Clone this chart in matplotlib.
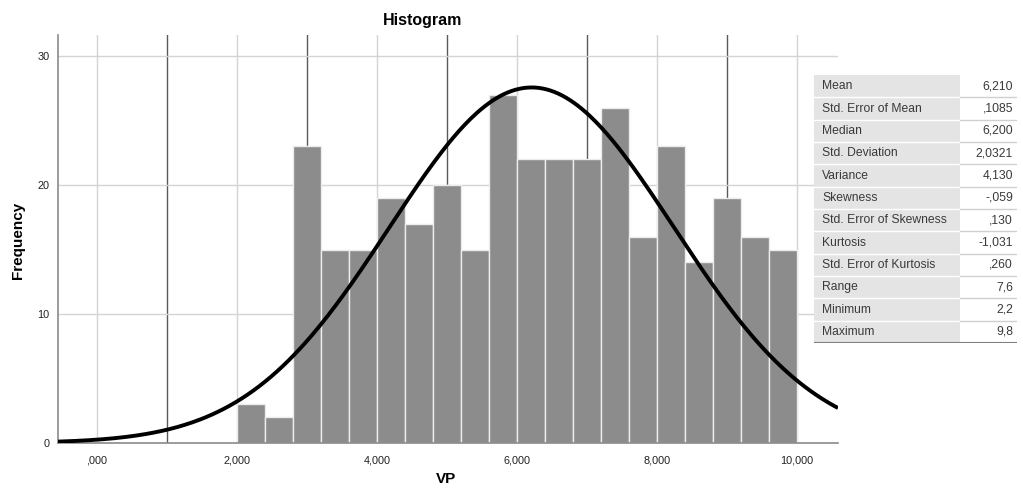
import numpy as np
import matplotlib
matplotlib.use("Agg")
from matplotlib import pyplot as plt
from matplotlib.patches import Rectangle

plt.rcParams['font.family'] = ['Liberation Sans', 'DejaVu Sans']

# histogram of VP, bins of 0.4 starting at 2.0
bin_left = [2.0, 2.4, 2.8, 3.2, 3.6, 4.0, 4.4, 4.8, 5.2, 5.6,
            6.0, 6.4, 6.8, 7.2, 7.6, 8.0, 8.4, 8.8, 9.2, 9.6]
counts = [3, 2, 23, 15, 15, 19, 17, 20, 15, 27,
          22, 22, 22, 26, 16, 23, 14, 19, 16, 15]
bin_width = 0.4

x_ticks = [0, 2, 4, 6, 8, 10]
x_tick_labels = [",000", "2,000", "4,000", "6,000", "8,000", "10,000"]
y_ticks = [0, 10, 20, 30]

stat_names = ["Mean", "Std. Error of Mean", "Median", "Std. Deviation", "Variance",
              "Skewness", "Std. Error of Skewness", "Kurtosis", "Std. Error of Kurtosis",
              "Range", "Minimum", "Maximum"]
stat_values = ["6,210", ",1085", "6,200", "2,0321", "4,130", "-,059", ",130",
               "-1,031", ",260", "7,6", "2,2", "9,8"]
mean = 6.210
std = 2.0321

W, H = 1023, 490
fig = plt.figure(figsize=(W / 100, H / 100), dpi=100)


def px_axes(x0, y0, x1, y1):
    # pixel box (top-left origin) -> figure axes
    return fig.add_axes([x0 / W, 1 - y1 / H, (x1 - x0) / W, (y1 - y0) / H])


ax = px_axes(58, 35, 838, 443)
ax.set_xlim(-0.557, 10.586)
ax.set_ylim(0, 31.63)

# grid: light at even values, dark at odd values
for v in range(0, 11):
    if v % 2 == 0:
        ax.axvline(v, color='#d4d4d4', lw=1, zorder=0)
    else:
        ax.axvline(v, color='#5a5a5a', lw=1, zorder=0)
for v in y_ticks[1:]:
    ax.axhline(v, color='#d4d4d4', lw=1, zorder=0)

ax.bar(bin_left, counts, width=bin_width, align='edge', color='#8c8c8c',
       edgecolor='#ececec', linewidth=1, zorder=2)

n = sum(counts)
xs = np.linspace(-0.557, 10.586, 400)
ys = n * bin_width / (std * np.sqrt(2 * np.pi)) * np.exp(-0.5 * ((xs - mean) / std) ** 2)
ax.plot(xs, ys, color='black', lw=2.8, zorder=3, solid_capstyle='butt')

for s in ['top', 'right']:
    ax.spines[s].set_visible(False)
for s in ['left', 'bottom']:
    ax.spines[s].set_color('#8a8a8a')
    ax.spines[s].set_linewidth(1.2)

ax.set_xticks(x_ticks)
ax.set_xticklabels(x_tick_labels)
ax.set_yticks(y_ticks)
ax.tick_params(length=0, labelsize=7.8, labelcolor='#222222', pad=6)
ax.tick_params(axis='x', pad=9)

fig.text(423 / W, 1 - 20 / H, "Histogram", ha='center', va='center',
         fontsize=11.5, fontweight='bold')
fig.text(18 / W, 1 - 240 / H, "Frequency", ha='center', va='center',
         rotation=90, fontsize=11, fontweight='bold')
fig.text(446 / W, 1 - 479 / H, "VP", ha='center', va='center',
         fontsize=11, fontweight='bold')

# statistics table
tab = px_axes(814, 75, 1017, 343)
tab.set_xlim(0, 203)
tab.set_ylim(len(stat_names), 0)
tab.axis('off')
split = 146
for i, (name, val) in enumerate(zip(stat_names, stat_values)):
    tab.add_patch(Rectangle((0, i), split, 1, facecolor='#e4e4e4', edgecolor='none'))
    tab.text(8, i + 0.5, name, ha='left', va='center', fontsize=8.7, color='#3a3a3a')
    tab.text(199, i + 0.5, val, ha='right', va='center', fontsize=8.7, color='#3a3a3a')
    if i > 0:
        tab.plot([0, split], [i, i], color='white', lw=1)
        tab.plot([split, 203], [i, i], color='#d0d0d0', lw=1)
tab.plot([0, 203], [len(stat_names), len(stat_names)], color='#808080', lw=1.5)

fig.savefig("out.png", dpi=100)
